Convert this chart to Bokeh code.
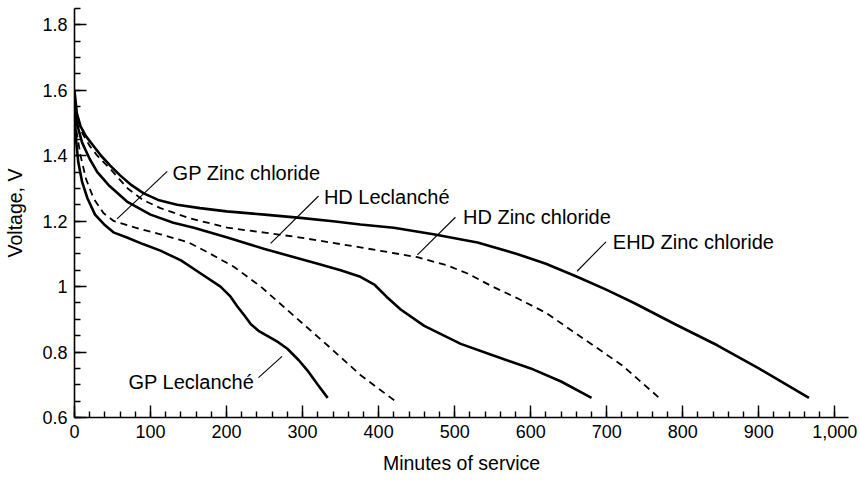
from bokeh.plotting import figure
from bokeh.models import FixedTicker, NumeralTickFormatter
from bokeh.core.properties import value
from bokeh.embed import file_html
from bokeh.resources import INLINE

FONT = "Liberation Sans"

# ---- data (minutes of service, voltage) ----
ehd_zncl_x = [0, 3, 8, 15, 25, 35, 47, 60, 75, 91, 110, 135, 165, 200, 250, 297, 340, 376, 420, 472,
              530, 582, 620, 661, 700, 736, 790, 846, 900, 966]
ehd_zncl_y = [1.60, 1.53, 1.49, 1.46, 1.43, 1.40, 1.37, 1.34, 1.31, 1.285, 1.265, 1.25, 1.24, 1.23, 1.22,
              1.21, 1.20, 1.19, 1.18, 1.16, 1.135, 1.10, 1.07, 1.03, 0.99, 0.95, 0.885, 0.82, 0.75, 0.66]

hd_zncl_x = [0, 3, 10, 20, 30, 47, 70, 90, 113, 150, 201, 250, 297, 376, 451, 490, 517, 550, 582, 620,
             670, 720, 769]
hd_zncl_y = [1.58, 1.52, 1.47, 1.43, 1.40, 1.36, 1.30, 1.265, 1.24, 1.21, 1.18, 1.165, 1.15, 1.12, 1.09,
             1.065, 1.04, 1.00, 0.965, 0.92, 0.84, 0.76, 0.66]

hd_lec_x = [0, 3, 10, 20, 30, 45, 69, 100, 130, 157, 201, 250, 289, 320, 350, 376, 395, 410, 429, 460,
            508, 550, 600, 640, 680]
hd_lec_y = [1.57, 1.50, 1.44, 1.39, 1.35, 1.31, 1.26, 1.22, 1.195, 1.18, 1.15, 1.115, 1.09, 1.07, 1.05,
            1.03, 1.005, 0.97, 0.93, 0.88, 0.825, 0.79, 0.75, 0.71, 0.66]

gp_zncl_x = [0, 3, 8, 15, 25, 38, 52, 80, 113, 150, 179, 210, 245, 289, 333, 376, 422]
gp_zncl_y = [1.55, 1.47, 1.40, 1.33, 1.27, 1.225, 1.20, 1.18, 1.16, 1.135, 1.10, 1.06, 1.00, 0.91, 0.82,
             0.73, 0.65]

gp_lec_x = [0, 2, 5, 10, 17, 27, 39, 52, 69, 90, 113, 140, 166, 192, 205, 214, 224, 232, 242, 253, 268,
            280, 295, 306, 320, 333]
gp_lec_y = [1.55, 1.45, 1.38, 1.32, 1.27, 1.22, 1.19, 1.165, 1.15, 1.13, 1.11, 1.08, 1.04, 1.00, 0.97,
            0.94, 0.91, 0.885, 0.865, 0.85, 0.83, 0.81, 0.775, 0.745, 0.70, 0.66]

# ---- axis ticks ----
x_major = [0, 100, 200, 300, 400, 500, 600, 700, 800, 900, 1000]
x_minor = list(range(0, 1020, 20))
y_major = [0.6, 0.8, 1.0, 1.2, 1.4, 1.6, 1.8]
y_labels = ["0.6", "0.8", "1", "1.2", "1.4", "1.6", "1.8"]
y_minor = [round(0.6 + 0.05 * i, 2) for i in range(26)]

# ---- annotations: label, text anchor, leader start, leader end ----
ann_text = ["GP Zinc chloride", "HD Leclanché", "HD Zinc chloride", "EHD Zinc chloride", "GP Leclanché"]
ann_tx = [129, 328, 511, 708, 71]
ann_ty = [1.347, 1.274, 1.212, 1.136, 0.708]
lead_x0 = [122, 321, 501, 699, 242]
lead_y0 = [1.352, 1.277, 1.212, 1.137, 0.722]
lead_x1 = [56, 258, 451, 661, 273]
lead_y1 = [1.207, 1.132, 1.097, 1.047, 0.787]

p = figure(width=858, height=478, output_backend="svg", toolbar_location=None,
           x_range=(0, 1018), y_range=(0.6, 1.85),
           min_border_left=74, min_border_right=10, min_border_top=8, min_border_bottom=61)
p.outline_line_color = None
p.xgrid.visible = False
p.ygrid.visible = False
p.background_fill_color = "white"

# curves
p.line(ehd_zncl_x, ehd_zncl_y, line_color="black", line_width=2.6)
p.line(hd_zncl_x, hd_zncl_y, line_color="black", line_width=1.8, line_dash="7 5")
p.line(hd_lec_x, hd_lec_y, line_color="black", line_width=2.6)
p.line(gp_zncl_x, gp_zncl_y, line_color="black", line_width=1.8, line_dash="7 5")
p.line(gp_lec_x, gp_lec_y, line_color="black", line_width=2.6)

# leaders and labels
p.segment(lead_x0, lead_y0, lead_x1, lead_y1, line_color="black", line_width=1.1)
p.text(ann_tx, ann_ty, text=ann_text, text_font=value(FONT), text_font_size="20px",
       text_align="left", text_baseline="middle", text_color="black")

# axes
xa = p.xaxis[0]
xa.ticker = FixedTicker(ticks=x_major, minor_ticks=x_minor)
xa.formatter = NumeralTickFormatter(format="0,0")
ya = p.yaxis[0]
ya.ticker = FixedTicker(ticks=y_major, minor_ticks=y_minor)
ya.major_label_overrides = {v: s for v, s in zip(y_major, y_labels)}

for ax in (xa, ya):
    ax.axis_line_color = "black"
    ax.axis_line_width = 1.6
    ax.major_tick_in = 12
    ax.major_tick_out = 0
    ax.minor_tick_in = 6
    ax.minor_tick_out = 0
    ax.major_tick_line_color = "black"
    ax.minor_tick_line_color = "black"
    ax.major_tick_line_width = 1.4
    ax.minor_tick_line_width = 1.4
    ax.major_label_text_font = FONT
    ax.major_label_text_font_size = "18px"
    ax.major_label_text_color = "black"
    ax.axis_label_text_font = FONT
    ax.axis_label_text_font_size = "19.5px"
    ax.axis_label_text_font_style = "normal"
    ax.axis_label_text_color = "black"

xa.axis_label = "Minutes of service"
ya.axis_label = "Voltage, V"
xa.major_label_standoff = 7
xa.axis_label_standoff = 11
ya.major_label_standoff = 7
ya.axis_label_standoff = 13

open("out.html", "w").write(file_html(p, INLINE))
